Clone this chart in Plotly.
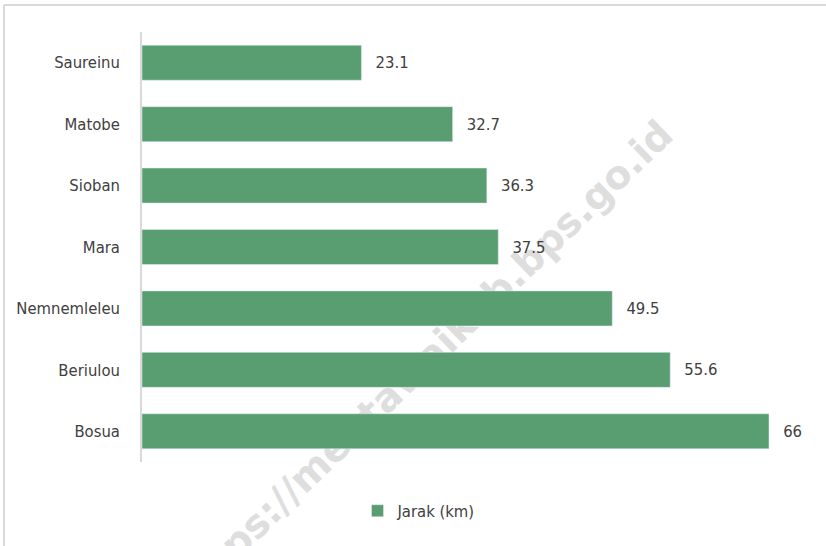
import plotly.graph_objects as go

categories = ["Bosua", "Beriulou", "Nemnemleleu", "Mara", "Sioban", "Matobe", "Saureinu"]
values = [66, 55.6, 49.5, 37.5, 36.3, 32.7, 23.1]
value_labels = ["66", "55.6", "49.5", "37.5", "36.3", "32.7", "23.1"]
series_name = "Jarak (km)"
watermark = "https://mentawaikab.bps.go.id"

FONT = "DejaVu Sans Condensed, Liberation Sans Narrow, sans-serif"
TXT = "#404040"
BAR = "#599E70"
FS = 16.5

W, H = 826, 546
L, R, T, B = 142, 19, 32, 84
pw, ph = W - L - R, H - T - B

def px(x):
    return (x - L) / pw

def py(y):
    return (H - B - y) / ph

fig = go.Figure()
fig.add_trace(go.Bar(
    y=categories, x=values, orientation="h", name=series_name,
    marker=dict(color=BAR), width=0.57,
    text=value_labels, texttemplate="\u2002\u2005%{text}",
    textposition="outside", cliponaxis=False,
    textfont=dict(family=FONT, size=FS, color=TXT),
    showlegend=True,
))

fig.update_layout(
    width=W, height=H,
    margin=dict(l=L, r=R, t=T, b=B),
    paper_bgcolor="white", plot_bgcolor="rgba(0,0,0,0)",
    font=dict(family=FONT, size=FS, color=TXT),
    xaxis=dict(range=[0, 70], visible=False, fixedrange=True, automargin=False),
    yaxis=dict(categoryorder="array", categoryarray=categories,
               showline=True, linecolor="#d9d9d9", linewidth=1.5,
               ticks="outside", ticklen=17, tickcolor="rgba(0,0,0,0)",
               showgrid=False, automargin=False,
               tickfont=dict(family=FONT, size=FS, color=TXT),
               fixedrange=True),
    legend=dict(orientation="h", x=px(419), xanchor="center",
                y=py(511), yanchor="middle",
                font=dict(family=FONT, size=FS, color=TXT),
                itemwidth=30, bgcolor="rgba(0,0,0,0)"),
    showlegend=True,
    bargap=0.43,
)

# chart border (top and left edges visible)
fig.add_shape(type="line", xref="paper", yref="paper",
              x0=px(4), x1=px(826), y0=py(5), y1=py(5),
              line=dict(color="#d9d9d9", width=2))
fig.add_shape(type="line", xref="paper", yref="paper",
              x0=px(4), x1=px(4), y0=py(5), y1=py(546),
              line=dict(color="#d9d9d9", width=2))

# watermark, drawn beneath the bars
fig.add_shape(type="rect", xref="paper", yref="paper", layer="below",
              x0=px(411), x1=px(431), y0=py(370), y1=py(350),
              line=dict(width=0), fillcolor="rgba(0,0,0,0)",
              label=dict(text=watermark, textangle=-44,
                         textposition="middle center",
                         font=dict(family="DejaVu Sans, sans-serif", size=39,
                                   color="#dedede", weight="bold")))

fig.write_html("out.html", config={"displayModeBar": False},
               post_script="document.body.style.margin='0px';")
